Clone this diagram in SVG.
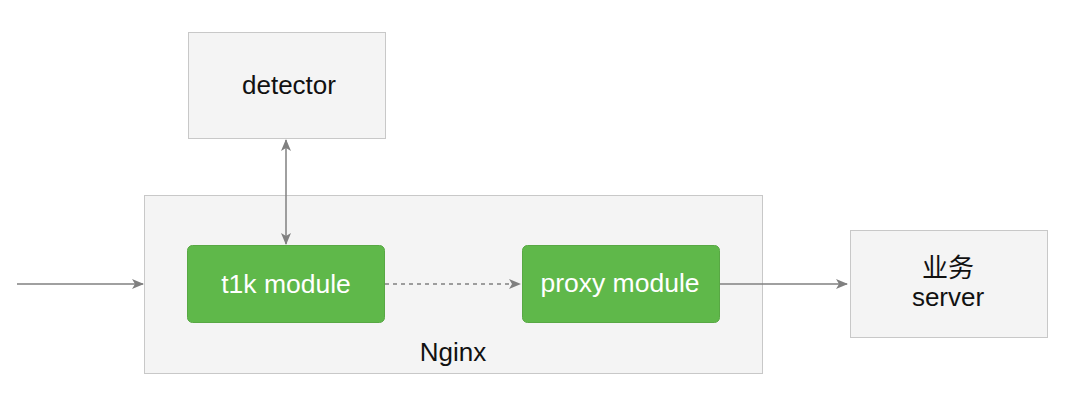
<svg xmlns="http://www.w3.org/2000/svg" width="1080" height="406" viewBox="0 0 1080 406">
<style>
.box{fill:#f4f4f4;stroke:#c8c8c8;stroke-width:1}
.mod{fill:#5fb84a;stroke:#58a844;stroke-width:1}
.lbl{font-family:"Liberation Sans",Arial,"Noto Sans CJK SC",sans-serif;font-size:26px;text-anchor:middle;fill:#111}
.wlbl{font-family:"Liberation Sans",Arial,sans-serif;font-size:26.5px;text-anchor:middle;fill:#fff}
.ln{stroke:#808080;stroke-width:1.5;fill:none}
</style>
<defs>
<marker id="ah" viewBox="0 0 12 10" refX="11" refY="5" markerWidth="12" markerHeight="10" markerUnits="userSpaceOnUse" orient="auto-start-reverse">
<path d="M0,0 L12,5 L0,10 L3,5 Z" fill="#808080"/>
</marker>
</defs>
<rect x="0" y="0" width="1080" height="406" fill="#fff"/>
<g id="nginx">
<rect class="box" x="144.5" y="195.5" width="618" height="178"/>
<text class="lbl" x="453" y="361">Nginx</text>
</g>
<g id="detector">
<rect class="box" x="188.5" y="32.5" width="197" height="106"/>
<text class="lbl" x="289" y="94">detector</text>
</g>
<g id="t1k">
<rect class="mod" x="187.5" y="245.5" width="197" height="77" rx="5"/>
<text class="wlbl" x="286" y="293">t1k module</text>
</g>
<g id="proxy">
<rect class="mod" x="522.5" y="245.5" width="197" height="77" rx="5"/>
<text class="wlbl" x="620" y="292">proxy module</text>
</g>
<g id="server">
<rect class="box" x="850.5" y="230.5" width="197" height="107"/>
<text class="lbl" x="948" y="277">业务</text>
<text class="lbl" x="948" y="306">server</text>
</g>
<g id="connectors">
<line class="ln" x1="17" y1="284" x2="143" y2="284" marker-end="url(#ah)"/>
<line class="ln" x1="286" y1="140" x2="286" y2="244" marker-start="url(#ah)" marker-end="url(#ah)"/>
<line class="ln" x1="385" y1="284" x2="520" y2="284" stroke-dasharray="4,4" marker-end="url(#ah)"/>
<line class="ln" x1="720" y1="284" x2="847" y2="284" marker-end="url(#ah)"/>
</g>
</svg>
